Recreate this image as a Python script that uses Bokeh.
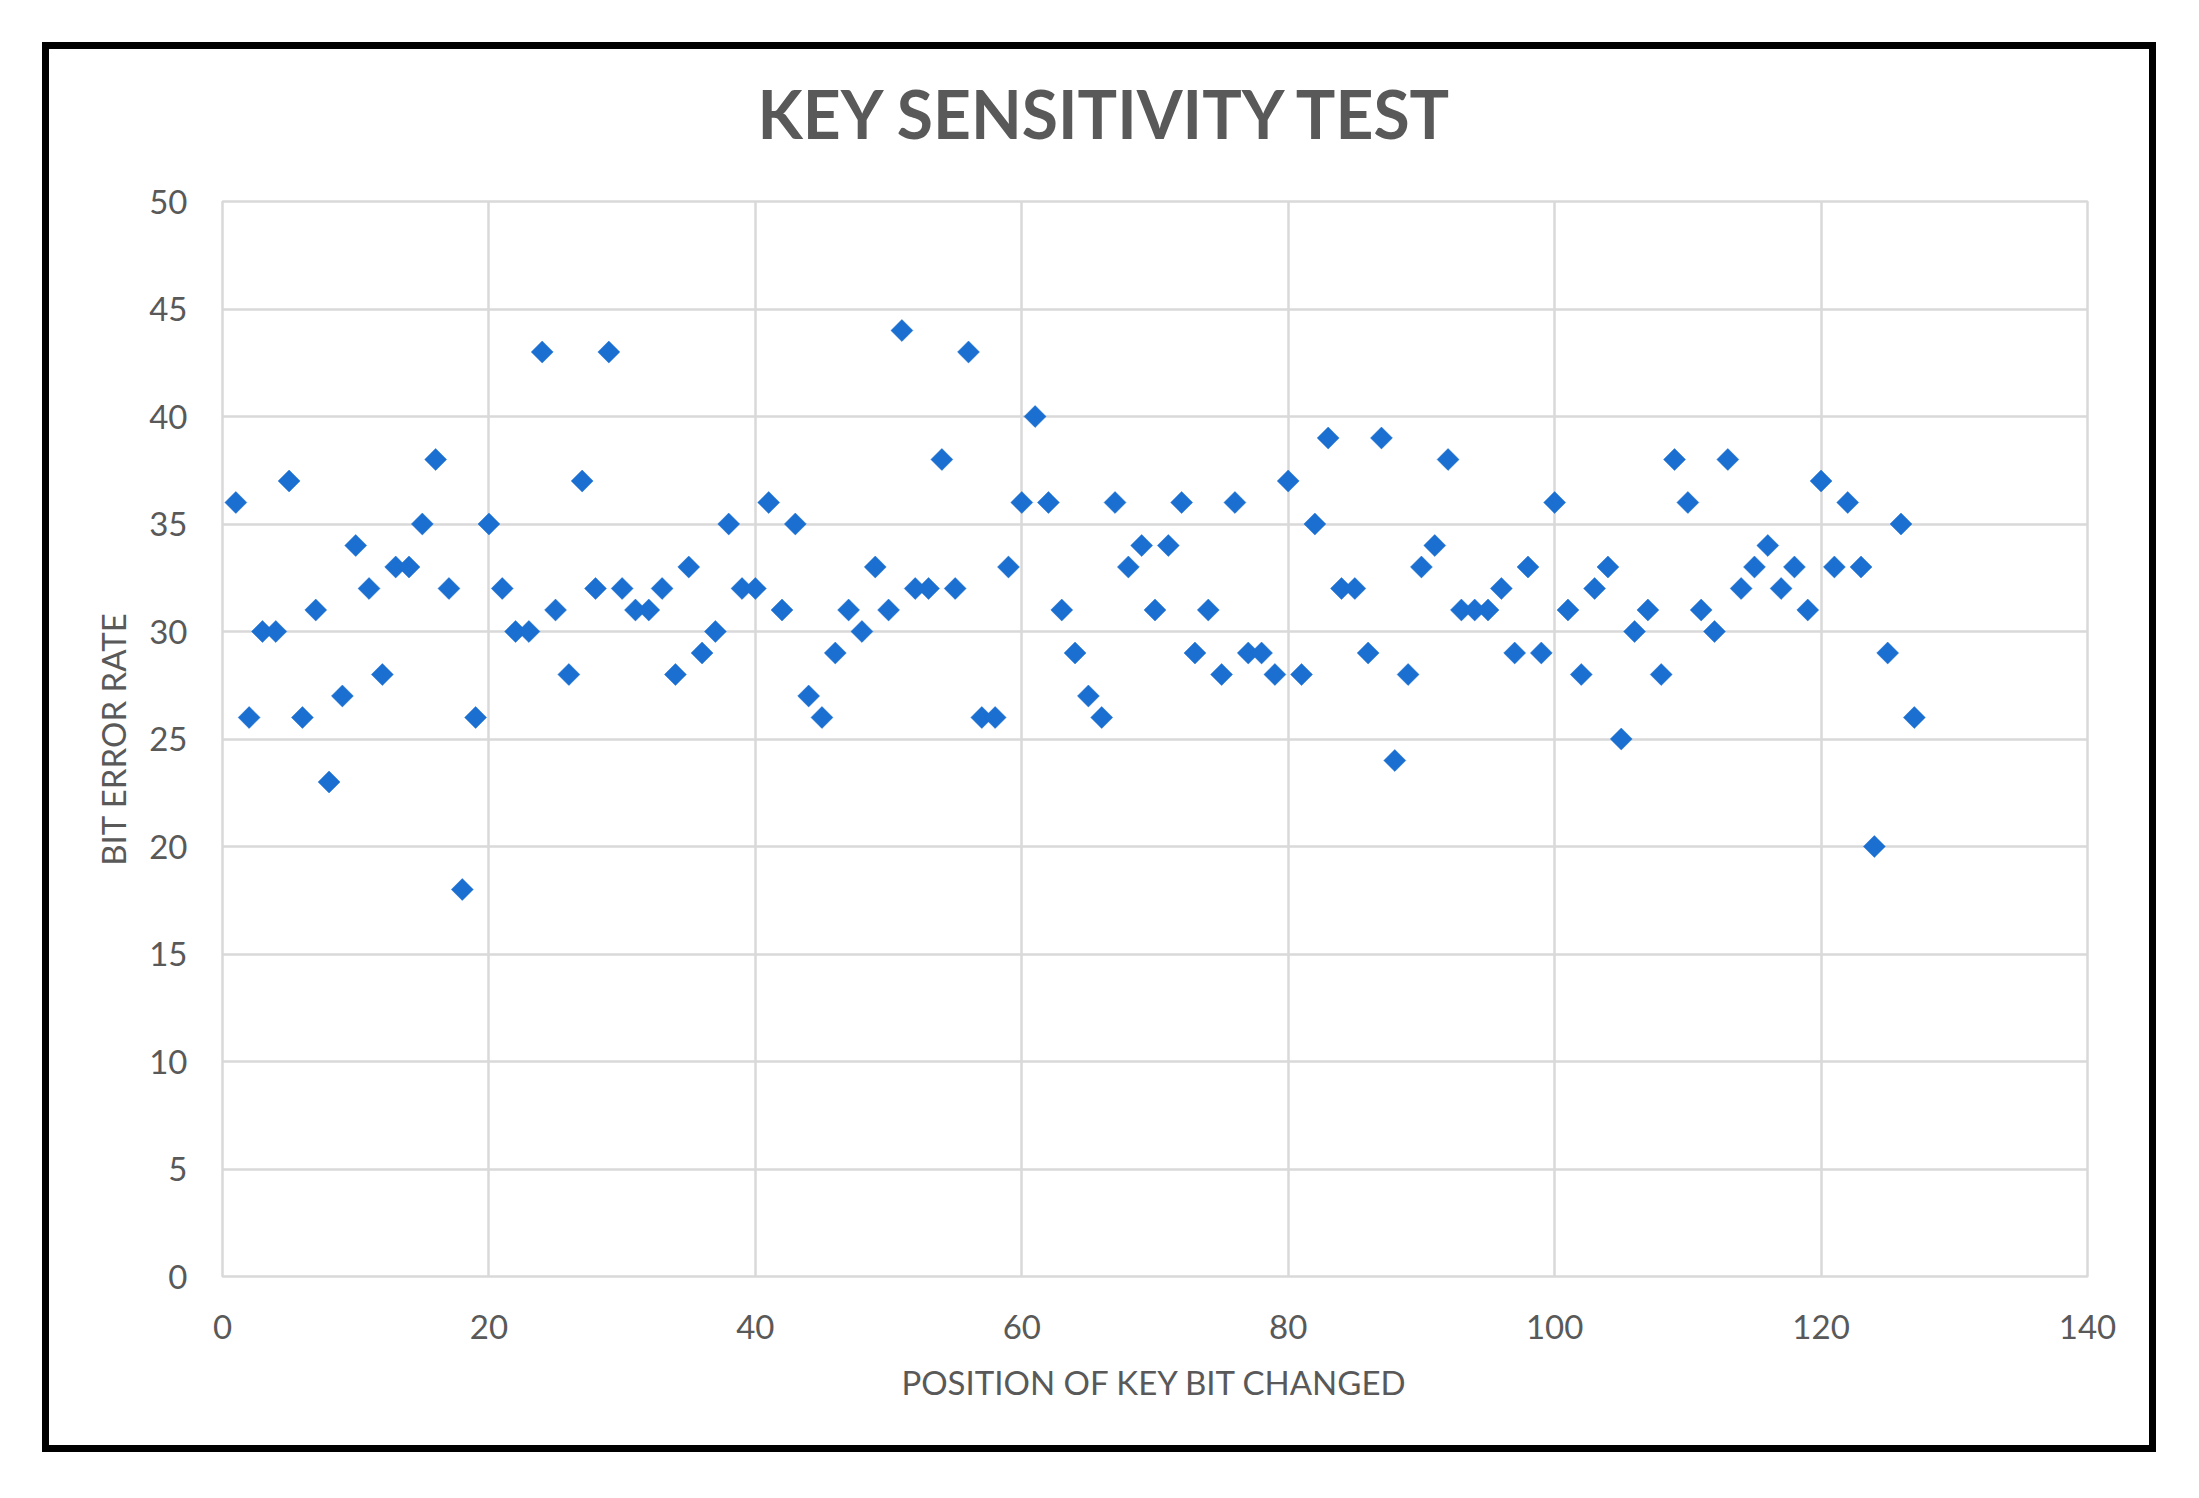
import math
from bokeh.plotting import figure
from bokeh.models import SingleIntervalTicker, Range1d, Title
from bokeh.embed import file_html
from bokeh.resources import INLINE

# ---- data ----
key_bit_position = list(range(1, 128))
bit_error_rate = [
    36, 26, 30, 30, 37, 26, 31, 23, 27, 34,
    32, 28, 33, 33, 35, 38, 32, 18, 26, 35,
    32, 30, 30, 43, 31, 28, 37, 32, 43, 32,
    31, 31, 32, 28, 33, 29, 30, 35, 32, 32,
    36, 31, 35, 27, 26, 29, 31, 30, 33, 31,
    44, 32, 32, 38, 32, 43, 26, 26, 33, 36,
    40, 36, 31, 29, 27, 26, 36, 33, 34, 31,
    34, 36, 29, 31, 28, 36, 29, 29, 28, 37,
    28, 35, 39, 32, 32, 29, 39, 24, 28, 33,
    34, 38, 31, 31, 31, 32, 29, 33, 29, 36,
    31, 28, 32, 33, 25, 30, 31, 28, 38, 36,
    31, 30, 38, 32, 33, 34, 32, 33, 31, 37,
    33, 36, 33, 20, 29, 35, 26,
]
title_text = "KEY SENSITIVITY TEST"
x_label = "POSITION OF KEY BIT CHANGED"
y_label = "BIT ERROR RATE"
x_limits = (0, 140)
y_limits = (0, 50)
x_step = 20
y_step = 5

FONT = "Lato"
TEXT_COLOR = "#595959"
GRID_COLOR = "#d9d9d9"
MARKER_COLOR = "#1a6fd0"

p = figure(
    frame_width=1865, frame_height=1075,
    min_border_left=173, min_border_right=62,
    min_border_top=152, min_border_bottom=169,
    x_range=Range1d(*x_limits), y_range=Range1d(*y_limits),
    output_backend="svg", toolbar_location=None, tools="",
    background_fill_color="white", border_fill_color="white",
)
# black frame around the whole chart
p.margin = (42, 0, 0, 42)
p.styles = {"border": "7px solid black"}

p.outline_line_color = GRID_COLOR
p.outline_line_width = 2.5

# spacer between the title and the plotting area
p.add_layout(Title(text=" ", text_font_size="2px", standoff=40), "above")

# title
p.title.text = title_text
p.title.align = "left"
p.title.offset = 535
p.title.text_font = FONT
p.title.text_font_style = "bold"
p.title.text_font_size = "66px"
p.title.text_color = TEXT_COLOR
p.title.standoff = 10

# axes
p.xaxis.ticker = SingleIntervalTicker(interval=x_step)
p.yaxis.ticker = SingleIntervalTicker(interval=y_step)
for ax in (p.xaxis, p.yaxis):
    ax.axis_line_color = None
    ax.major_tick_line_color = None
    ax.minor_tick_line_color = None
    ax.major_tick_out = 0
    ax.major_tick_in = 0
    ax.major_label_text_font = FONT
    ax.major_label_text_font_size = "33px"
    ax.major_label_text_color = TEXT_COLOR
    ax.axis_label_text_font = FONT
    ax.axis_label_text_font_size = "33px"
    ax.axis_label_text_font_style = "normal"
    ax.axis_label_text_color = TEXT_COLOR
p.xaxis.axis_label = x_label
p.yaxis.axis_label = y_label
p.xaxis.major_label_standoff = 34
p.yaxis.major_label_standoff = 31
p.xaxis.axis_label_standoff = 20
p.yaxis.axis_label_standoff = 13

# grid
p.xgrid.grid_line_color = GRID_COLOR
p.ygrid.grid_line_color = GRID_COLOR
p.xgrid.grid_line_width = 2.5
p.ygrid.grid_line_width = 2.5

# data points (diamonds)
p.scatter(key_bit_position, bit_error_rate, marker="square", angle=math.pi / 4,
          size=15.5, fill_color=MARKER_COLOR, line_color=MARKER_COLOR, line_width=0.5)

open("out.html", "w").write(file_html(p, INLINE))
